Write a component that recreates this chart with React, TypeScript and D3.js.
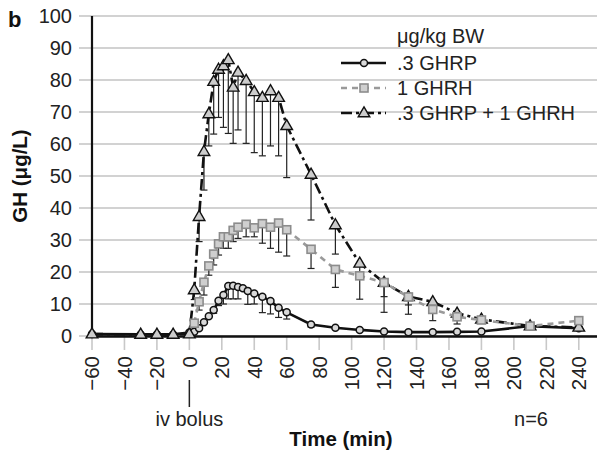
import React from "react";
import * as d3 from "d3";

// ---- data ----
const timesGHRP = [-60, -30, -20, -10, 0, 3, 6, 9, 12, 15, 18, 21, 24, 27, 30, 33, 36, 40, 45, 50, 55, 60, 75, 90, 105, 120, 135, 150, 165, 180, 210, 240];
const ghrp = [0.6, 0.5, 0.5, 0.5, 1.1, 1.3, 2.4, 4.3, 6.2, 8.1, 11, 12.8, 15.6, 15.7, 15.3, 14.9, 14.1, 13.3, 12.3, 10.9, 8.8, 7.4, 3.6, 2.6, 1.9, 1.4, 1.2, 1.2, 1.3, 1.4, 3.1, 2.4];
const ghrpSem = [0, 0, 0, 0, 0, 0, 0, 0, 0, 1, 1.5, 2.8, 4.0, 4.1, 3.7, 0, 4.2, 3.3, 5.0, 4.0, 3.0, 2.1, 0.8, 0, 0, 0, 0, 0, 0, 0, 0, 0];

const timesGHRH = [3, 6, 9, 12, 15, 18, 21, 24, 27, 30, 35, 40, 45, 50, 55, 60, 75, 90, 105, 120, 135, 150, 165, 180, 210, 240];
const ghrh = [4.0, 10.7, 16.8, 21.9, 25.6, 28.8, 31, 31, 33, 34, 34.9, 33.8, 35.1, 34, 35.3, 33.2, 27.1, 20.8, 18.8, 16.7, 12.2, 8.3, 6.0, 5.0, 3.1, 4.8];
const ghrhSem = [0, 2.6, 4.0, 2.9, 3.4, 3.5, 3.6, 3.6, 3.5, 3.5, 3.9, 2.8, 6.1, 6.6, 9.1, 8.2, 6.0, 5.6, 0, 4.4, 2.5, 3.5, 2.25, 0, 0, 0];

const timesCombo = [-60, -30, -20, -10, 0, 3, 6, 9, 12, 15, 18, 21, 24, 27, 30, 35, 40, 45, 50, 55, 60, 75, 90, 105, 120, 135, 150, 165, 180, 210, 240];
const combo = [0.6, 0.5, 0.5, 0.5, 0.6, 14.4, 37.3, 57.6, 69.4, 79.5, 83.3, 84.4, 86.3, 77.7, 82.4, 79.8, 76.3, 74.5, 76.6, 74.5, 65.7, 50.5, 34.7, 22.7, 16.7, 12.3, 10.7, 7.1, 5.2, 3.1, 2.7];
const comboSem = [0, 0, 0, 0, 0, 3, 7.8, 12, 10, 16.4, 15, 19.2, 23, 17.5, 18, 19.6, 19, 18.2, 17.2, 18.2, 16.2, 14.25, 9.1, 11.2, 9.3, 5.5, 0, 0, 0, 0, 0];

const xTicks = [-60, -40, -20, 0, 20, 40, 60, 80, 100, 120, 140, 160, 180, 200, 220, 240];
const yTicks = [0, 10, 20, 30, 40, 50, 60, 70, 80, 90, 100];
const legendTitle = "μg/kg BW";
const legendLabels = [".3 GHRP", "1 GHRH", ".3 GHRP + 1 GHRH"];

const W = 597, H = 456;
const x = d3.scaleLinear().domain([-60, 250]).range([92, 595]);
const y = d3.scaleLinear().domain([0, 100]).range([336, 16]);

const FONT = "Liberation Sans, Arial, Helvetica, sans-serif";

function zipSeries(ts: number[], vs: number[], es: number[]) {
  return ts.map((t, i) => ({ t, v: vs[i], e: es[i] }));
}

const triPath = (cx: number, cy: number, s: number) =>
  `M${cx},${cy - s * 0.62}L${cx + s * 0.58},${cy + s * 0.38}L${cx - s * 0.58},${cy + s * 0.38}Z`;

function Marker({ kind, cx, cy }: { kind: string; cx: number; cy: number }) {
  if (kind === "circle")
    return <circle cx={cx} cy={cy} r={3.5} fill="#d9d9d9" stroke="#111" strokeWidth={1.5} />;
  if (kind === "square")
    return <rect x={cx - 4} y={cy - 4} width={8} height={8} fill="#cfcfcf" stroke="#8c8c8c" strokeWidth={1.6} />;
  return <path d={triPath(cx, cy, 10)} fill="#cccccc" stroke="#111" strokeWidth={1.4} />;
}

const seriesDefs = [
  { key: "ghrp", data: zipSeries(timesGHRP, ghrp, ghrpSem), stroke: "#111", dash: "", marker: "circle" },
  { key: "combo", data: zipSeries(timesCombo, combo, comboSem), stroke: "#111", dash: "11,4,3,4", marker: "tri" },
  { key: "ghrh", data: zipSeries(timesGHRH, ghrh, ghrhSem), stroke: "#9a9a9a", dash: "6,5", marker: "square" },
];

export default function App() {
  const line = d3
    .line<{ t: number; v: number }>()
    .x((d) => x(d.t))
    .y((d) => y(d.v));

  return (
    <svg width={W} height={H} style={{ position: "absolute", left: 0, top: 0, background: "#fff" }}>
      {yTicks.map((t) => (
        <line key={"g" + t} x1={79} x2={597} y1={y(t)} y2={y(t)} stroke="#c3c3c3" strokeWidth={1.6} />
      ))}
      {xTicks.map((t) => (
        <line key={"xt" + t} x1={x(t)} x2={x(t)} y1={337} y2={350} stroke="#c8c8c8" strokeWidth={1.6} />
      ))}
      <line x1={92} x2={92} y1={16} y2={337} stroke="#111" strokeWidth={2.2} />
      <line x1={91} x2={597} y1={336.5} y2={336.5} stroke="#111" strokeWidth={2.6} />

      {yTicks.map((t) => (
        <text key={"yl" + t} x={72} y={y(t)} dy="0.36em" textAnchor="end" fontFamily={FONT} fontSize={20} fill="#222">
          {t}
        </text>
      ))}
      {xTicks.map((t) => (
        <text
          key={"xl" + t}
          transform={`translate(${x(t)},356) rotate(-90)`}
          dy="0.36em"
          textAnchor="end"
          fontFamily={FONT}
          fontSize={20.5}
          fill="#222"
        >
          {t < 0 ? "\u2212" + Math.abs(t) : t}
        </text>
      ))}

      {seriesDefs.map((s) =>
        s.data
          .filter((d) => d.e > 0)
          .map((d, i) => (
            <g key={s.key + "e" + i} stroke="#222" strokeWidth={1.2}>
              <line x1={x(d.t)} x2={x(d.t)} y1={y(d.v)} y2={y(d.v - d.e)} />
              <line x1={x(d.t) - 3.5} x2={x(d.t) + 3.5} y1={y(d.v - d.e)} y2={y(d.v - d.e)} />
            </g>
          ))
      )}

      {seriesDefs.map((s) => (
        <g key={s.key}>
          <path d={line(s.data) || ""} fill="none" stroke={s.stroke} strokeWidth={2.6} strokeDasharray={s.dash || undefined} />
          {s.data.map((d, i) => (
            <Marker key={i} kind={s.marker} cx={x(d.t)} cy={y(d.v)} />
          ))}
        </g>
      ))}

      <text x={397} y={43} fontFamily={FONT} fontSize={20} fill="#222">
        {legendTitle}
      </text>
      {legendLabels.map((lab, i) => {
        const ly = 63 + i * 25;
        const s = seriesDefs[[0, 2, 1][i]];
        return (
          <g key={"lg" + i}>
            <line x1={341} x2={386} y1={ly} y2={ly} stroke={s.stroke} strokeWidth={2.6} strokeDasharray={s.dash || undefined} />
            <Marker kind={s.marker} cx={364} cy={ly} />
            <text x={397} y={ly} dy="0.36em" fontFamily={FONT} fontSize={20} fill="#222">
              {lab}
            </text>
          </g>
        );
      })}

      <line x1={x(0)} x2={x(0)} y1={380} y2={407} stroke="#222" strokeWidth={1.5} />
      <text x={x(0)} y={426} textAnchor="middle" fontFamily={FONT} fontSize={20} fill="#222">
        iv bolus
      </text>
      <text x={531} y={426} textAnchor="middle" fontFamily={FONT} fontSize={20} fill="#222">
        n=6
      </text>
      <text x={341} y={446} textAnchor="middle" fontFamily={FONT} fontSize={20.5} fontWeight="bold" fill="#111">
        Time (min)
      </text>
      <text
        transform="translate(27,176) rotate(-90)"
        textAnchor="middle"
        fontFamily={FONT}
        fontSize={20.5}
        fontWeight="bold"
        fill="#111"
      >
        GH (μg/L)
      </text>
      <text x={8} y={27} fontFamily={FONT} fontSize={22} fontWeight="bold" fill="#111">
        b
      </text>
    </svg>
  );
}
